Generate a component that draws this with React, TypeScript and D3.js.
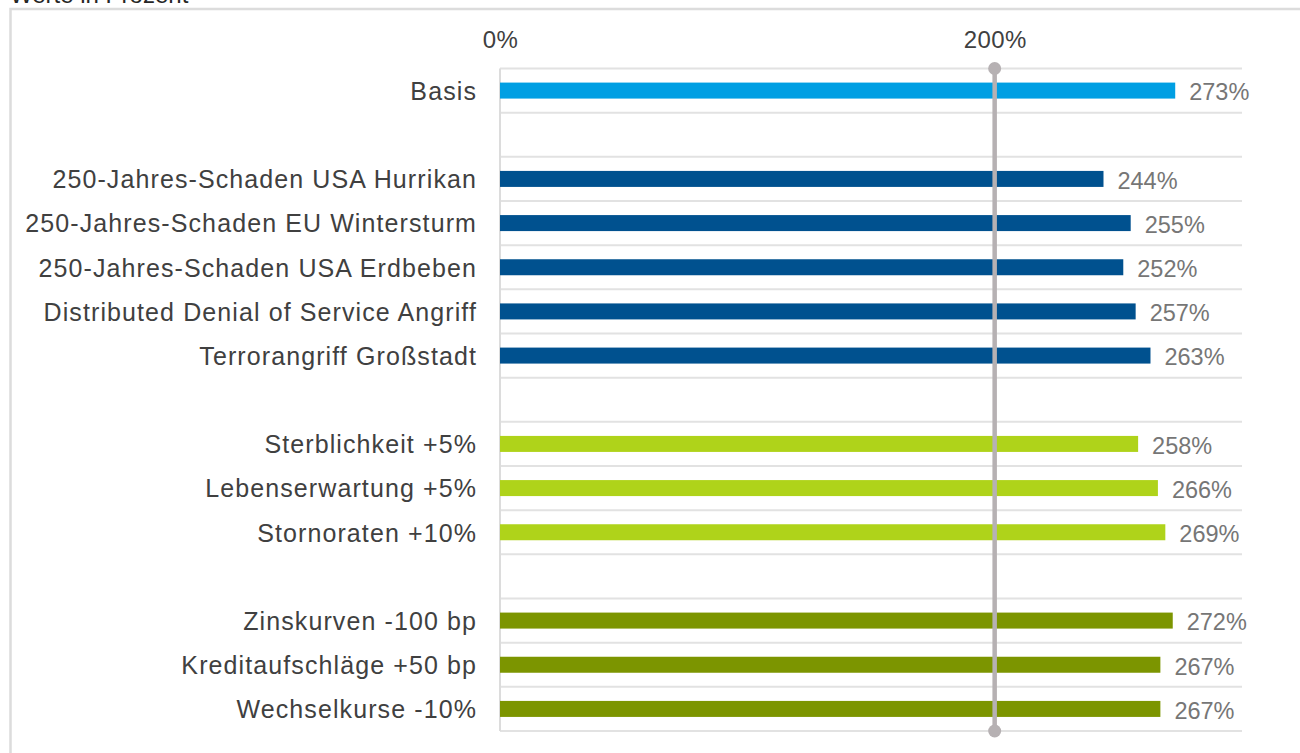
import * as d3 from 'd3';
import React, { useEffect, useRef } from 'react';

// rows of the chart, empty strings are the spacer rows between groups
const categories = [
  'Basis',
  '',
  '250-Jahres-Schaden USA Hurrikan',
  '250-Jahres-Schaden EU Wintersturm',
  '250-Jahres-Schaden USA Erdbeben',
  'Distributed Denial of Service Angriff',
  'Terrorangriff Großstadt',
  '',
  'Sterblichkeit +5%',
  'Lebenserwartung +5%',
  'Stornoraten +10%',
  '',
  'Zinskurven -100 bp',
  'Kreditaufschläge +50 bp',
  'Wechselkurse -10%',
];
const values = [273, null, 244, 255, 252, 257, 263, null, 258, 266, 269, null, 272, 267, 267];
const groups = ['basis', null, 'nat', 'nat', 'nat', 'nat', 'nat', null, 'leben', 'leben', 'leben', null, 'markt', 'markt', 'markt'];
const tickValues = [0, 200];
const threshold = 200;
const title = 'Werte in Prozent';

const colors = {
  basis: '#009fe3',
  nat: '#00518f',
  leben: '#afd31a',
  markt: '#7c9500',
};

const App = () => {
  const svgRef = useRef(null);

  useEffect(() => {
    const svg = d3.select(svgRef.current);
    svg.selectAll('*').remove();

    const font = "'Liberation Sans', Arial, sans-serif";

    //outer frame
    svg
      .append('rect')
      .attr('x', 10.5)
      .attr('y', 9)
      .attr('width', 1400)
      .attr('height', 900)
      .attr('fill', 'none')
      .attr('stroke', '#dcdcdc')
      .attr('stroke-width', 2.5);

    //title, cut off at the top like in the picture
    svg
      .append('text')
      .attr('x', 10)
      .attr('y', 3)
      .attr('font-family', font)
      .attr('font-size', 24)
      .attr('fill', '#262626')
      .text(title);

    const x = d3.scaleLinear().domain([0, 300]).range([500, 1242]);
    const keys = categories.map((c, i) => i);
    const y = d3.scaleBand().domain(keys).range([68.5, 731]).paddingInner(0).paddingOuter(0);
    const barH = 16;

    //horizontal category gridlines
    const lines = d3.range(categories.length + 1).map((i) => 68.5 + i * y.step());
    svg
      .append('g')
      .selectAll('line')
      .data(lines)
      .enter()
      .append('line')
      .attr('x1', 500)
      .attr('x2', 1242)
      .attr('y1', (d) => d)
      .attr('y2', (d) => d)
      .attr('stroke', '#e2e2e2')
      .attr('stroke-width', 2);

    //vertical axis line
    svg
      .append('line')
      .attr('x1', 500)
      .attr('x2', 500)
      .attr('y1', 68.5)
      .attr('y2', 731)
      .attr('stroke', '#dcdcdc')
      .attr('stroke-width', 2);

    //top axis labels
    const xAxis = (g) => {
      g.attr('transform', 'translate(0, 56)')
        .call(d3.axisTop(x).tickValues(tickValues).tickSize(0).tickPadding(8).tickFormat((d) => d + '%'))
        .call((g) => g.select('.domain').remove())
        .call((g) =>
          g
            .selectAll('text')
            .attr('font-family', font)
            .attr('font-size', 24)
            .attr('letter-spacing', 0.4)
            .attr('fill', '#404040')
        );
    };
    svg.append('g').call(xAxis);

    const rows = categories
      .map((c, i) => ({ name: c, value: values[i], group: groups[i], i }))
      .filter((d) => d.value !== null);

    //bars
    svg
      .append('g')
      .selectAll('rect')
      .data(rows)
      .enter()
      .append('rect')
      .attr('x', x(0))
      .attr('y', (d) => y(d.i) + y.bandwidth() / 2 - barH / 2)
      .attr('width', (d) => x(d.value) - x(0))
      .attr('height', barH)
      .attr('fill', (d) => colors[d.group]);

    //category labels
    svg
      .append('g')
      .selectAll('text')
      .data(rows)
      .enter()
      .append('text')
      .attr('x', 477)
      .attr('y', (d) => y(d.i) + y.bandwidth() / 2)
      .attr('dy', '0.37em')
      .attr('text-anchor', 'end')
      .attr('font-family', font)
      .attr('font-size', 25)
      .attr('letter-spacing', 1.1)
      .attr('fill', '#404040')
      .text((d) => d.name);

    //value labels
    svg
      .append('g')
      .selectAll('text')
      .data(rows)
      .enter()
      .append('text')
      .attr('x', (d) => x(d.value) + 14)
      .attr('y', (d) => y(d.i) + y.bandwidth() / 2)
      .attr('dy', '0.42em')
      .attr('font-family', font)
      .attr('font-size', 23.5)
      .attr('fill', '#767676')
      .text((d) => d.value + '%');

    //200% marker line with round ends
    const marker = svg.append('g');
    marker
      .append('line')
      .attr('x1', x(threshold))
      .attr('x2', x(threshold))
      .attr('y1', 68.5)
      .attr('y2', 731)
      .attr('stroke', '#b6b1b3')
      .attr('stroke-width', 4.5);
    marker
      .selectAll('circle')
      .data([68.5, 731])
      .enter()
      .append('circle')
      .attr('cx', x(threshold))
      .attr('cy', (d) => d)
      .attr('r', 6.5)
      .attr('fill', '#b6b1b3');
  }, []);

  return (
    <div style={{ position: 'absolute', left: 0, top: 0 }}>
      <svg ref={svgRef} width={1300} height={753} style={{ display: 'block', background: '#fff' }}></svg>
    </div>
  );
};

export default App;
